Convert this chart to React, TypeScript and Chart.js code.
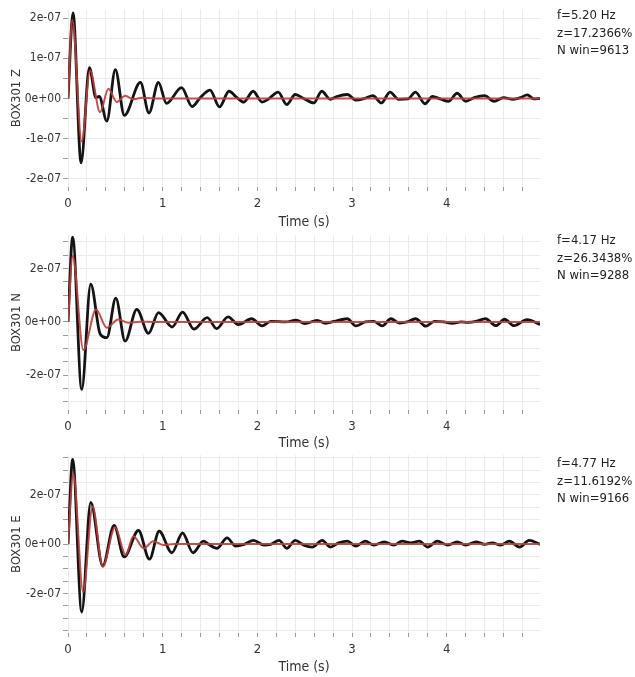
import React, { useEffect, useRef } from "react";
import { Chart, registerables } from "chart.js";

Chart.register(...registerables);

// Amplitudes below are in units of 1e-07
const UNIT = 1e-7;

// ---- BOX301 Z ----
const zObsTime = [0, 0.053, 0.138, 0.226, 0.295, 0.33, 0.41, 0.5, 0.595, 0.765, 0.855, 0.955, 1.04, 1.2, 1.31, 1.4, 1.5, 1.6, 1.7, 1.785, 1.855, 1.955, 2.05, 2.12, 2.22, 2.31, 2.4, 2.49, 2.595, 2.68, 2.77, 2.84, 2.95, 3.04, 3.13, 3.22, 3.31, 3.4, 3.49, 3.59, 3.67, 3.77, 3.85, 3.93, 4.02, 4.11, 4.2, 4.29, 4.4, 4.5, 4.6, 4.7, 4.78, 4.85, 4.92, 4.985];
const zObsAmp = [0, 2.13, -1.6, 0.77, 0.02, 0.05, -0.56, 0.72, -0.42, 0.4, -0.36, 0.4, -0.12, 0.27, -0.2, 0.03, 0.21, -0.21, 0.18, 0.02, -0.09, 0.18, -0.09, -0.01, 0.16, -0.15, 0.1, 0.0, -0.11, 0.18, -0.02, 0.05, 0.1, -0.04, 0.0, 0.07, -0.11, 0.16, -0.02, -0.01, 0.16, -0.13, 0.05, -0.01, -0.07, 0.13, -0.07, 0.02, 0.07, -0.07, 0.02, -0.02, 0.02, 0.09, -0.01, 0.0];
const zFitTime = [0, 0.046, 0.145, 0.233, 0.339, 0.427, 0.515, 0.603, 0.69, 0.78, 0.9, 4.985];
const zFitAmp = [0, 1.95, -1.07, 0.69, -0.34, 0.24, -0.09, 0.07, -0.02, 0.02, 0.0, 0.0];
const zInfo = ["f=5.20 Hz", "z=17.2366%", "N win=9613"];

// ---- BOX301 N ----
const nObsTime = [0, 0.049, 0.145, 0.24, 0.34, 0.41, 0.505, 0.603, 0.727, 0.85, 0.956, 1.1, 1.21, 1.33, 1.47, 1.57, 1.69, 1.8, 1.94, 2.05, 2.14, 2.3, 2.41, 2.5, 2.63, 2.72, 2.81, 2.95, 3.04, 3.14, 3.23, 3.32, 3.41, 3.5, 3.58, 3.67, 3.78, 3.87, 3.97, 4.06, 4.15, 4.22, 4.31, 4.41, 4.52, 4.61, 4.71, 4.85, 4.985];
const nObsAmp = [0, 3.18, -2.53, 1.42, -0.45, -0.59, 0.89, -0.72, 0.47, -0.43, 0.35, -0.19, 0.37, -0.27, 0.16, -0.25, 0.19, -0.1, 0.12, -0.15, 0.02, 0.0, 0.07, -0.06, 0.06, -0.05, 0.02, 0.12, -0.15, 0.0, 0.02, -0.15, 0.12, -0.04, 0.0, 0.12, -0.16, 0.02, 0.0, -0.05, 0.0, -0.02, 0.02, 0.12, -0.14, 0.1, -0.14, 0.09, -0.1];
const nFitTime = [0, 0.049, 0.163, 0.296, 0.41, 0.53, 0.64, 0.76, 0.9, 4.985];
const nFitAmp = [0, 2.47, -1.05, 0.47, -0.22, 0.09, -0.03, 0.01, 0.0, 0.0];
const nInfo = ["f=4.17 Hz", "z=26.3438%", "N win=9288"];

// ---- BOX301 E ----
const eObsTime = [0, 0.049, 0.145, 0.24, 0.367, 0.487, 0.593, 0.744, 0.86, 0.963, 1.097, 1.21, 1.32, 1.43, 1.485, 1.573, 1.68, 1.77, 1.86, 1.96, 2.07, 2.14, 2.23, 2.31, 2.4, 2.49, 2.58, 2.685, 2.77, 2.86, 2.95, 3.04, 3.14, 3.23, 3.34, 3.44, 3.53, 3.62, 3.71, 3.8, 3.9, 4.01, 4.11, 4.2, 4.31, 4.4, 4.48, 4.57, 4.66, 4.77, 4.87, 4.985];
const eObsAmp = [0, 3.43, -2.75, 1.69, -0.88, 0.76, -0.52, 0.55, -0.61, 0.52, -0.35, 0.45, -0.35, 0.12, -0.01, -0.17, 0.25, -0.08, -0.01, 0.15, -0.04, -0.01, 0.15, -0.17, 0.15, -0.04, -0.12, 0.15, -0.12, 0.05, 0.12, -0.08, 0.12, -0.04, 0.09, -0.04, 0.12, 0.05, 0.12, -0.12, 0.12, -0.04, 0.09, -0.04, 0.09, -0.01, 0.05, -0.04, 0.12, -0.12, 0.15, -0.01];
const eFitTime = [0, 0.056, 0.16, 0.26, 0.367, 0.497, 0.61, 0.69, 0.8, 0.9, 1.01, 1.12, 4.985];
const eFitAmp = [0, 2.85, -1.95, 1.52, -0.92, 0.68, -0.44, 0.32, -0.17, 0.12, -0.04, 0.0, 0.0];
const eInfo = ["f=4.77 Hz", "z=11.6192%", "N win=9166"];

const TIME_MAX = 4.985;
const TIME_STEP = 0.2;
const AMP_MINOR = 0.5; // minor y grid step, in 1e-07

const FONT = "'DejaVu Sans Condensed', 'DejaVu Sans', sans-serif";

type PanelSpec = {
  name: string;
  obsTime: number[];
  obsAmp: number[];
  fitTime: number[];
  fitAmp: number[];
  info: string[];
  yMin: number;
  yMax: number;
  labelStep: number;
  top: number;
  height: number;
  padTop: number;
  xAxisHeight: number;
  infoTop: number;
};

const panels: PanelSpec[] = [
  { name: "BOX301 Z", obsTime: zObsTime, obsAmp: zObsAmp, fitTime: zFitTime, fitAmp: zFitAmp, info: zInfo,
    yMin: -2.2, yMax: 2.22, labelStep: 1, top: 0, height: 232, padTop: 8, xAxisHeight: 45, infoTop: 6 },
  { name: "BOX301 N", obsTime: nObsTime, obsAmp: nObsAmp, fitTime: nFitTime, fitAmp: nFitAmp, info: nInfo,
    yMin: -3.3, yMax: 3.25, labelStep: 2, top: 226, height: 227, padTop: 7, xAxisHeight: 43, infoTop: 231 },
  { name: "BOX301 E", obsTime: eObsTime, obsAmp: eObsAmp, fitTime: eFitTime, fitAmp: eFitAmp, info: eInfo,
    yMin: -3.6, yMax: 3.6, labelStep: 2, top: 446, height: 231, padTop: 7, xAxisHeight: 44, infoTop: 454 },
];

function sci(v: number): string {
  if (Math.abs(v) < 1e-15) return "0e+00";
  const e = Math.floor(Math.log10(Math.abs(v)) + 1e-9);
  const m = Math.round(v / Math.pow(10, e));
  return `${m}e${e < 0 ? "-" : "+"}${String(Math.abs(e)).padStart(2, "0")}`;
}

function isMultiple(v: number, step: number): boolean {
  const n = v / step;
  return Math.abs(n - Math.round(n)) < 1e-6;
}

function Panel({ spec }: { spec: PanelSpec }) {
  const ref = useRef<HTMLCanvasElement>(null);

  useEffect(() => {
    const canvas = ref.current;
    if (!canvas) return;
    const toPoints = (ts: number[], vs: number[]) => ts.map((t, i) => ({ x: t, y: vs[i] * UNIT }));

    const chart = new Chart(canvas, {
      type: "line",
      data: {
        datasets: [
          {
            label: "fit",
            data: toPoints(spec.fitTime, spec.fitAmp),
            borderColor: "rgba(190, 62, 56, 0.9)",
            borderWidth: 2,
            pointRadius: 0,
            cubicInterpolationMode: "monotone",
            fill: false,
          },
          {
            label: "record",
            data: toPoints(spec.obsTime, spec.obsAmp),
            borderColor: "#141414",
            borderWidth: 2.8,
            pointRadius: 0,
            cubicInterpolationMode: "monotone",
            borderJoinStyle: "round",
            fill: false,
          },
        ],
      },
      options: {
        animation: false,
        responsive: false,
        devicePixelRatio: 1,
        layout: { padding: { top: spec.padTop, right: 95, left: 0, bottom: 0 } },
        plugins: { legend: { display: false }, tooltip: { enabled: false } },
        scales: {
          x: {
            type: "linear",
            min: 0,
            max: TIME_MAX,
            afterBuildTicks: (scale: any) => {
              const ticks = [];
              for (let k = 0; k * TIME_STEP <= TIME_MAX + 1e-9; k++) {
                ticks.push({ value: Math.round(k * TIME_STEP * 1000) / 1000 });
              }
              scale.ticks = ticks;
            },
            afterFit: (scale: any) => {
              scale.height = spec.xAxisHeight;
            },
            border: { display: false },
            grid: { color: "#ebebeb", tickColor: "#9a9a9a", tickLength: 4, lineWidth: 1 },
            ticks: {
              autoSkip: false,
              maxRotation: 0,
              padding: 5,
              color: "#333",
              font: { family: FONT, size: 13 },
              callback: (value: any) => (isMultiple(Number(value), 1) ? String(Math.round(Number(value))) : ""),
            },
            title: {
              display: true,
              text: "Time (s)",
              color: "#333",
              font: { family: FONT, size: 14 },
              padding: { top: 0, bottom: 1 },
            },
          },
          y: {
            type: "linear",
            min: spec.yMin * UNIT,
            max: spec.yMax * UNIT,
            afterBuildTicks: (scale: any) => {
              const ticks = [];
              const lo = Math.ceil(spec.yMin / AMP_MINOR - 1e-9);
              const hi = Math.floor(spec.yMax / AMP_MINOR + 1e-9);
              for (let k = lo; k <= hi; k++) ticks.push({ value: k * AMP_MINOR * UNIT });
              scale.ticks = ticks;
            },
            afterFit: (scale: any) => {
              scale.width = 68;
            },
            border: { display: false },
            grid: { color: "#ebebeb", tickColor: "#9a9a9a", tickLength: 5, lineWidth: 1 },
            ticks: {
              autoSkip: false,
              padding: 2,
              color: "#333",
              font: { family: FONT, size: 12 },
              callback: (value: any) => {
                const v = Number(value) / UNIT;
                return isMultiple(v, spec.labelStep) ? sci(Math.round(v) * UNIT) : "";
              },
            },
            title: {
              display: true,
              text: spec.name,
              color: "#333",
              font: { family: FONT, size: 13 },
              padding: { top: 9, bottom: 0 },
            },
          },
        },
      },
    });
    return () => chart.destroy();
  }, [spec]);

  return (
    <>
      <canvas
        ref={ref}
        width={635}
        height={spec.height}
        style={{ position: "absolute", left: 0, top: spec.top, width: 635, height: spec.height }}
      />
      <div
        style={{
          position: "absolute",
          left: 557,
          top: spec.infoTop,
          fontFamily: FONT,
          fontSize: 13,
          lineHeight: "17.5px",
          color: "#222",
          whiteSpace: "nowrap",
        }}
      >
        {spec.info.map((line) => (
          <div key={line}>{line}</div>
        ))}
      </div>
    </>
  );
}

export default function App() {
  return (
    <div style={{ position: "absolute", left: 0, top: 0, width: 635, height: 677, background: "#fff", overflow: "hidden" }}>
      {panels.map((p) => (
        <Panel key={p.name} spec={p} />
      ))}
    </div>
  );
}
